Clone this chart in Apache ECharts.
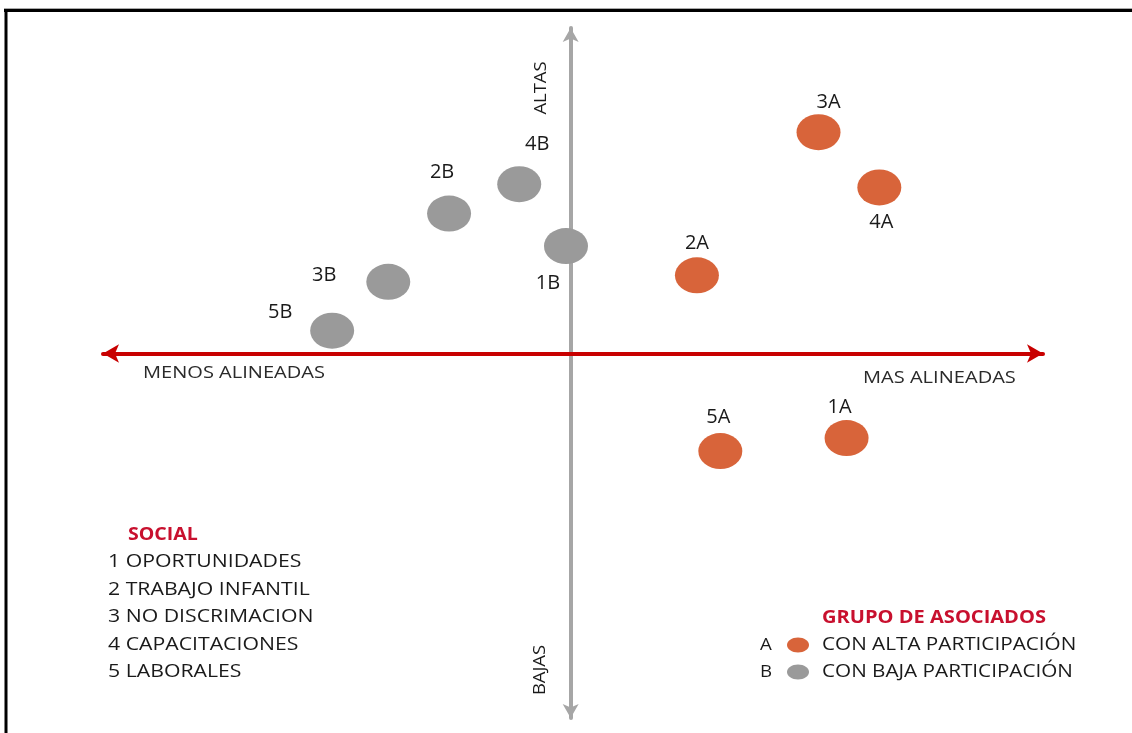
<!DOCTYPE html>
<html lang="es">
<head>
    <meta charset="UTF-8">
    <title>Matriz de alineamiento social</title>
    <script src="https://cdn.jsdelivr.net/npm/echarts@6/dist/echarts.min.js"></script>
    <style>
        html, body { margin: 0; padding: 0; background: #fff; }
        #chart { width: 1132px; height: 733px; }
    </style>
</head>
<body>
    <div id="chart"></div>

    <script>
        // etiquetas y posiciones
        var namesA = ['1A', '2A', '3A', '4A', '5A'];
        var valuesAx = [59, 27, 53, 66, 32];
        var valuesAy = [-26, 24, 68, 51, -30];

        var namesB = ['1B', '2B', '3B', '4B', '5B'];
        var valuesBx = [-1, -26, -39, -11, -51];
        var valuesBy = [33, 43, 22, 52, 7];

        var socialItems = ['1 OPORTUNIDADES', '2 TRABAJO INFANTIL', '3 NO DISCRIMACION', '4 CAPACITACIONES', '5 LABORALES'];
        var groupKeys = ['A', 'B'];
        var groupNames = ['CON ALTA PARTICIPACIÓN', 'CON BAJA PARTICIPACIÓN'];

        // desplazamiento de cada etiqueta respecto a su punto (px)
        var offsetsA = [[-7, -31], [0, -32], [10, -30], [2, 35], [-2, -34]];
        var offsetsB = [[-18, 37], [-7, -41], [-64, -7], [18, -40], [-52, -18]];

        var FONT = '"Open Sans"';
        var TXT = '#1a1a1a';
        var RED_TXT = '#c8102e';
        var colors = ['#d8643a', '#9a9a9a'];
        // el original esta algo estirado en horizontal
        var SX = 1.18;

        function buildData(names, xs, ys, offs) {
            var out = [];
            for (var i = 0; i < names.length; i++) {
                out.push({
                    name: names[i],
                    value: [xs[i], ys[i]],
                    label: { offset: offs[i] }
                });
            }
            return out;
        }

        function txt(x, y, s, font, fill, sx) {
            return {
                type: 'text', x: x, y: y, scaleX: sx || SX,
                style: { text: s, fill: fill || TXT, font: font, verticalAlign: 'middle' }
            };
        }

        var myChart = echarts.init(document.getElementById('chart'));

        var pointLabel = {
            show: true,
            position: 'inside',
            formatter: '{b}',
            color: TXT,
            fontSize: 20,
            fontFamily: 'Open Sans'
        };

        var graphics = [
            // marco
            { type: 'line', shape: { x1: 4, y1: 8.5, x2: 1132, y2: 8.5 }, style: { stroke: '#aaa', lineWidth: 1 } },
            { type: 'line', shape: { x1: 4, y1: 10.5, x2: 1132, y2: 10.5 }, style: { stroke: '#000', lineWidth: 3 } },
            { type: 'line', shape: { x1: 6, y1: 9, x2: 6, y2: 733 }, style: { stroke: '#000', lineWidth: 3 } },
            // nombres de los ejes
            { type: 'text', x: 541, y: 88, rotation: Math.PI / 2, scaleX: 1.15,
              style: { text: 'ALTAS', fill: TXT, font: '16px ' + FONT, align: 'center', verticalAlign: 'middle' } },
            { type: 'text', x: 540, y: 670, rotation: Math.PI / 2, scaleX: 1.15,
              style: { text: 'BAJAS', fill: TXT, font: '16px ' + FONT, align: 'center', verticalAlign: 'middle' } },
            txt(143, 373, 'MENOS ALINEADAS', '17px ' + FONT, '#2a2a2a'),
            txt(863, 378, 'MAS ALINEADAS', '17px ' + FONT, '#2a2a2a'),
            // leyenda social
            txt(128, 535, 'SOCIAL', 'bold 17px ' + FONT, RED_TXT, 1.15),
            // leyenda grupos
            txt(822, 618, 'GRUPO DE ASOCIADOS', 'bold 17px ' + FONT, RED_TXT)
        ];
        for (var i = 0; i < socialItems.length; i++) {
            graphics.push(txt(108, 562 + i * 27.5, socialItems[i], '18px ' + FONT));
        }
        for (var j = 0; j < groupNames.length; j++) {
            var gy = 645 + j * 27;
            graphics.push(txt(760, gy, groupKeys[j], '17px ' + FONT, TXT, 1.1));
            graphics.push({
                type: 'ellipse',
                shape: { cx: 798, cy: gy, rx: 11, ry: 7.5 },
                style: { fill: colors[j] }
            });
            graphics.push(txt(822, gy, groupNames[j], '18px ' + FONT, TXT, 1.15));
        }

        var option = {
            backgroundColor: '#fff',
            animation: false,
            grid: { left: 103, right: 89, top: 28, bottom: 15 },
            xAxis: {
                type: 'value',
                min: -100,
                max: 101,
                axisLine: {
                    onZero: true,
                    symbol: ['arrow', 'arrow'],
                    symbolSize: [14, 16],
                    lineStyle: { color: '#c80000', width: 4 }
                },
                axisTick: { show: false },
                axisLabel: { show: false },
                splitLine: { show: false }
            },
            yAxis: {
                type: 'value',
                min: -112,
                max: 100,
                axisLine: {
                    onZero: true,
                    symbol: ['arrow', 'arrow'],
                    symbolSize: [12, 14],
                    lineStyle: { color: '#a6a6a6', width: 4 }
                },
                axisTick: { show: false },
                axisLabel: { show: false },
                splitLine: { show: false }
            },
            graphic: graphics,
            series: [
                {
                    name: groupNames[0],
                    type: 'scatter',
                    symbol: 'circle',
                    symbolSize: [44, 36],
                    itemStyle: { color: colors[0], opacity: 1 },
                    label: pointLabel,
                    z: 5,
                    data: buildData(namesA, valuesAx, valuesAy, offsetsA)
                },
                {
                    name: groupNames[1],
                    type: 'scatter',
                    symbol: 'circle',
                    symbolSize: [44, 36],
                    itemStyle: { color: colors[1], opacity: 1 },
                    label: pointLabel,
                    z: 5,
                    data: buildData(namesB, valuesBx, valuesBy, offsetsB)
                }
            ]
        };
        myChart.setOption(option);
    </script>
</body>
</html>
